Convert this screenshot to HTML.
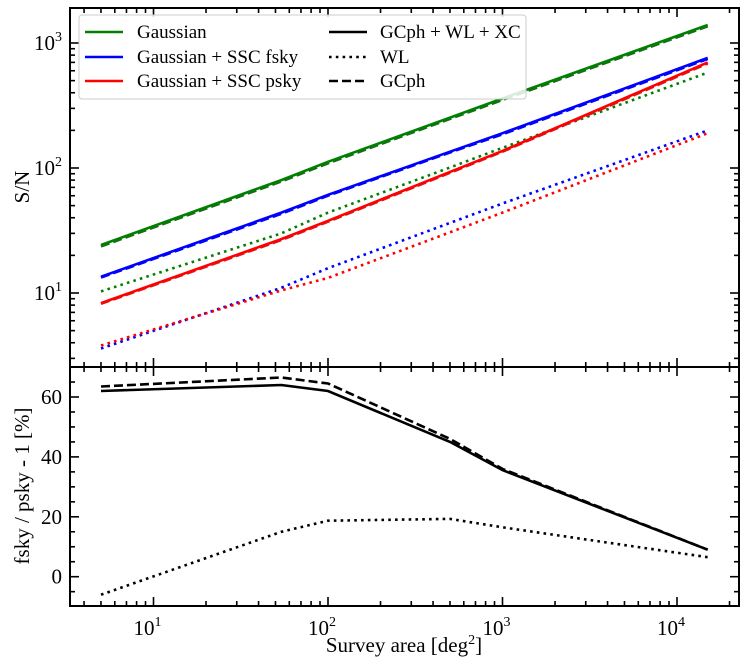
<!DOCTYPE html>
<html><head><meta charset="utf-8">
<style>
body{margin:0;background:#fff;}
svg{display:block;font-family:"Liberation Serif",serif;}
</style></head>
<body>
<svg id="chart" width="747" height="666" xmlns="http://www.w3.org/2000/svg">
<rect width="747" height="666" fill="#fff"/>
<g id="topPanel"></g>
<g id="botPanel"></g>
<g id="axesG"></g>
</svg>
<script>
const areas = [5, 54, 100, 500, 1000, 15000];
const gaussSolid = [24.2, 80, 112, 253, 360, 1393];
const gaussDashed = [23.6, 78, 109, 247, 350, 1360];
const fskySolid = [13.5, 44, 61, 135, 190, 760];
const fskyDashed = [13.3, 43, 60, 133, 186, 745];
const pskySolid = [8.3, 27, 37.8, 93, 137, 700];
const pskyDashed = [8.2, 26.5, 37.2, 91.5, 135, 685];
const gaussWL = [10.3, 30, 44, 101, 145, 580];
const fskyWL = [3.6, 11, 15.8, 36.4, 52, 200];
const pskyWL = [3.8, 10.5, 13.2, 30.6, 44, 190];
const ratioAll = [62, 64, 62, 45, 35.6, 9];
const ratioGC = [63.5, 66.5, 64.5, 46, 36, 9];
const ratioWL = [-6, 15, 18.7, 19.3, 16.5, 6.5];
const yTicksBot = [0, 20, 40, 60];

const NS="http://www.w3.org/2000/svg";
const L=70,R=739,T=8,M=367,B=606;
function Xs(v){return 153.5+(Math.log10(v)-1)*174.5;}
function Yt(v){return 293-(Math.log10(v)-1)*125;}
function Yb(v){return 576.7-v*2.995;}
function el(tag,attrs,parent){const e=document.createElementNS(NS,tag);for(const k in attrs)e.setAttribute(k,attrs[k]);parent.appendChild(e);return e;}
const topG=document.getElementById('topPanel'),botG=document.getElementById('botPanel'),ax=document.getElementById('axesG');
function series(vals,yf,color,dash,parent,name){
  const d=vals.map((v,i)=>(i?'L':'M')+Xs(areas[i]).toFixed(1)+','+yf(v).toFixed(1)).join(' ');
  const p=el('path',{d:d,fill:'none',stroke:color,'stroke-width':2.6},parent);
  if(dash==='dash')p.setAttribute('stroke-dasharray','9,4');
  if(dash==='dot')p.setAttribute('stroke-dasharray','2.6,4.2');
  
  
}
const G='#008000',Bl='#0000ff',Rd='#ff0000';
series(gaussWL,Yt,G,'dot',topG,'gaussian-wl-line');
series(fskyWL,Yt,Bl,'dot',topG,'fsky-wl-line');
series(pskyWL,Yt,Rd,'dot',topG,'psky-wl-line');
series(gaussDashed,Yt,'#1a6b1a','dash',topG,'gaussian-gcph-line');
series(gaussSolid,Yt,G,'',topG,'gaussian-all-line');
series(fskyDashed,Yt,Bl,'dash',topG,'fsky-gcph-line');
series(fskySolid,Yt,Bl,'',topG,'fsky-all-line');
series(pskyDashed,Yt,'#cc2222','dash',topG,'psky-gcph-line');
series(pskySolid,Yt,Rd,'',topG,'psky-all-line');
series(ratioGC,Yb,'#000','dash',botG,'ratio-gcph-line');
series(ratioAll,Yb,'#000','',botG,'ratio-all-line');
series(ratioWL,Yb,'#000','dot',botG,'ratio-wl-line');

el('rect',{x:L,y:T,width:R-L,height:M-T,fill:'none',stroke:'#000','stroke-width':2},ax);
el('rect',{x:L,y:M,width:R-L,height:B-M,fill:'none',stroke:'#000','stroke-width':2},ax);
for(let e=0;e<=4;e++)for(let m=1;m<10;m++){
  const v=m*Math.pow(10,e);const x=Xs(v);if(x<L+1||x>R-1)continue;
  const len=m===1?9:5;
  [[T,1],[M,-1],[M,1],[B,-1]].forEach(([y0,s])=>el('line',{x1:x,x2:x,y1:y0,y2:y0+s*len,stroke:'#000','stroke-width':1.6},ax));
  if(m===1){const t=el('text',{x:x-6,y:B+29,'font-size':21,'text-anchor':'middle'},ax);t.textContent='10';
    const s=el('tspan',{dy:-9,'font-size':14},t);s.textContent=String(e);
    }
}
for(let e=0;e<=3;e++)for(let m=1;m<10;m++){
  const v=m*Math.pow(10,e);const y=Yt(v);if(y<T+1||y>M-1)continue;
  const len=m===1?9:5;
  el('line',{x1:L,x2:L+len,y1:y,y2:y,stroke:'#000','stroke-width':1.6},ax);
  el('line',{x1:R,x2:R-len,y1:y,y2:y,stroke:'#000','stroke-width':1.6},ax);
  if(m===1){const t=el('text',{x:L-8,y:y+7,'font-size':21,'text-anchor':'end'},ax);t.textContent='10';
    const s=el('tspan',{dy:-9,'font-size':14},t);s.textContent=String(e);
    }
}
for(let v=-10;v<=70;v+=5){const y=Yb(v);if(y<M+1||y>B-1)continue;
  const len=v%20===0?9:5;
  el('line',{x1:L,x2:L+len,y1:y,y2:y,stroke:'#000','stroke-width':1.6},ax);
  el('line',{x1:R,x2:R-len,y1:y,y2:y,stroke:'#000','stroke-width':1.6},ax);}
yTicksBot.forEach(v=>{const t=el('text',{x:L-8,y:Yb(v)+7,'font-size':21,'text-anchor':'end'},ax);t.textContent=String(v);
  });
let t=el('text',{x:404,y:652,'font-size':21,'text-anchor':'middle'},ax);t.textContent='Survey area [deg';
let s=el('tspan',{dy:-8,'font-size':14},t);s.textContent='2';s=el('tspan',{dy:8},t);s.textContent=']';

t=el('text',{x:0,y:0,'font-size':21,'text-anchor':'middle',transform:'translate(29,187) rotate(-90)'},ax);t.textContent='S/N';

t=el('text',{x:0,y:0,'font-size':21,'text-anchor':'middle',transform:'translate(29,486) rotate(-90)'},ax);t.textContent='fsky / psky - 1 [%]';

const lg=el('g',{},ax);


el('rect',{x:79,y:15,width:447,height:84,rx:3,fill:'#fff','fill-opacity':0.85,stroke:'#ccc','stroke-width':1},lg);
const entries=[[85,123,137,32,G,'','Gaussian'],[85,123,137,57,Bl,'','Gaussian + SSC fsky'],[85,123,137,81,Rd,'','Gaussian + SSC psky'],
[329,367,380,32,'#000','','GCph + WL + XC'],[329,367,380,57,'#000','dot','WL'],[329,367,380,81,'#000','dash','GCph']];
entries.forEach(([x1,x2,tx0,y,c,d,label])=>{
  const g=el('g',{},lg);
  
  
  const ln=el('line',{x1:x1,x2:x2,y1:y,y2:y,stroke:c,'stroke-width':2.6},g);
  if(d==='dot')ln.setAttribute('stroke-dasharray','2.6,4.2');
  if(d==='dash')ln.setAttribute('stroke-dasharray','9,4');
  const tx=el('text',{x:tx0,y:y+6,'font-size':19},g);tx.textContent=label;
});
</script>
</body></html>
